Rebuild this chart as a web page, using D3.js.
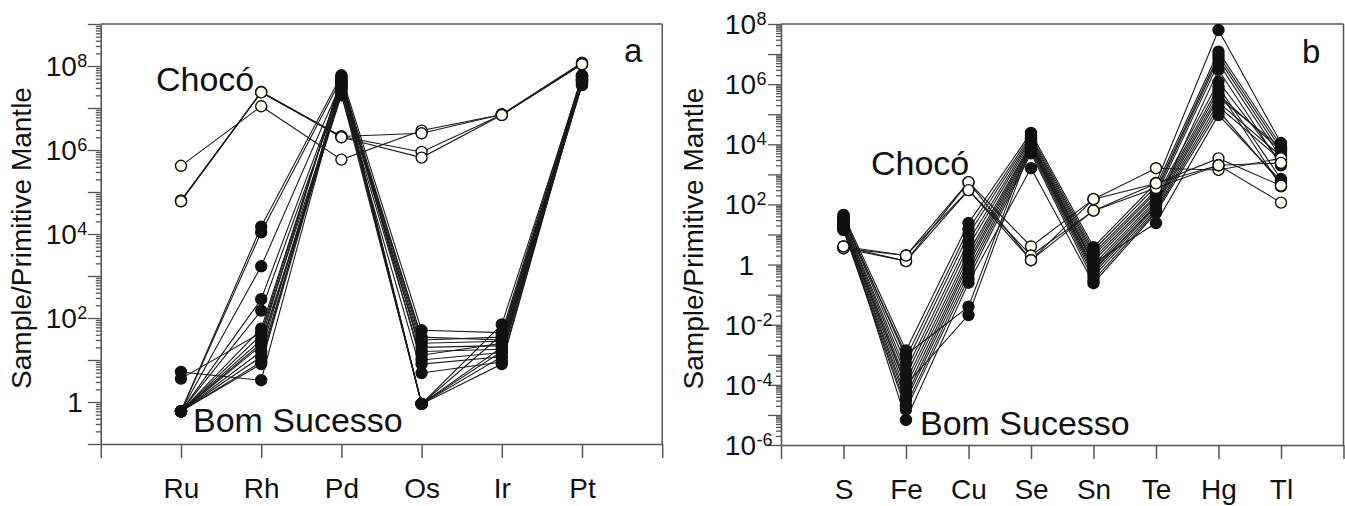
<!DOCTYPE html>
<html><head><meta charset="utf-8">
<script src="https://cdn.jsdelivr.net/npm/d3@7"></script>
<style>
body{margin:0;background:#fff}
svg text{font-family:"Liberation Sans",Arial,sans-serif;fill:#111}
</style>
</head><body>
<svg id="chart" width="1345" height="506"></svg>
<script>
// ---------- Panel a data ----------
const elementsA = ["Ru","Rh","Pd","Os","Ir","Pt"];
const chocoA = [
  [4.2e5, 1.1e7, 5.9e5, 2.9e6, 7.0e6, 1.2e8],
  [6.3e4, 2.4e7, 2.1e6, 2.5e6, 7.0e6, 1.15e8],
  [6.1e4, 2.4e7, 2.1e6, 9.0e5, 6.9e6, 1.1e8],
  [6.0e4, 2.35e7, 2.0e6, 6.6e5, 6.8e6, 1.1e8]
];
const bomSucessoA = [
  [0.6, 1.5e4, 6.0e7, 51, 45, 6.0e7],
  [0.6, 1.1e4, 5.0e7, 30, 35, 5.0e7],
  [0.6, 1.7e3, 4.0e7, 25, 28, 4.5e7],
  [0.6, 280,   3.5e7, 20, 22, 4.0e7],
  [0.6, 150,   3.0e7, 16, 18, 3.5e7],
  [0.6, 56,    4.5e7, 13, 25, 5.5e7],
  [0.6, 40,    2.5e7, 10, 15, 4.2e7],
  [0.6, 30,    5.5e7, 8,  12, 3.8e7],
  [0.6, 22,    2.0e7, 4.9, 9, 4.8e7],
  [0.6, 16,    3.8e7, 0.9, 70, 5.2e7],
  [0.6, 12,    2.8e7, 0.9, 40, 4.4e7],
  [0.6, 9,     4.2e7, 0.9, 20, 3.6e7],
  [0.6, 8,     3.2e7, 0.9, 12, 5.8e7],
  [0.6, 25,    2.2e7, 0.9, 8,  4.6e7],
  [5.2, 3.3,   3.6e7, 35, 30, 4.0e7],
  [3.6, 45,    4.8e7, 0.9, 16, 5.0e7]
];
const yTickExpA = [0, 2, 4, 6, 8];

// ---------- Panel b data ----------
const elementsB = ["S","Fe","Cu","Se","Sn","Te","Hg","Tl"];
const chocoB = [
  [3.5, 2.0, 550, 4.0, 150, 1600, 1400, 3400],
  [4.0, 1.3, 300, 2.0, 62,  500,  3400, 420],
  [3.5, 1.3, 550, 1.4, 62,  350,  2000, 115],
  [4.0, 2.0, 300, 1.4, 150, 500,  2000, 2400]
];
const bomSucessoB = [
  [45, 1.4e-3, 24,    2.4e4, 3.8,  520, 6.3e7, 1.1e4],
  [40, 8e-4,   15,    2.0e4, 3.0,  400, 1.2e7, 9000],
  [35, 5e-4,   10,    1.7e4, 2.4,  300, 9.0e6, 7000],
  [30, 3e-4,   6,     1.5e4, 2.0,  250, 7.0e6, 5000],
  [28, 2e-4,   4,     1.3e4, 1.6,  200, 5.0e6, 3500],
  [25, 1.3e-4, 2.5,   1.1e4, 1.3,  170, 1.2e6, 2500],
  [22, 9e-5,   1.8,   1.0e4, 1.0,  140, 8.0e5, 700],
  [20, 6e-5,   1.3,   9000,  0.8,  120, 6.0e5, 400],
  [18, 4e-5,   1.0,   8000,  0.6,  100, 4.5e5, 6000],
  [16, 3e-5,   0.7,   7000,  0.5,  85,  3.5e5, 8000],
  [15, 2e-5,   0.5,   6000,  0.4,  70,  2.5e5, 4000],
  [14, 1.5e-5, 0.35,  5000,  0.3,  60,  1.8e5, 3000],
  [24, 6.8e-6, 0.25,  1600,  0.24, 52,  1.3e5, 500],
  [32, 1e-3,   0.04,  1.2e4, 1.1,  24,  9.4e4, 600],
  [20, 1e-4,   0.021, 8500,  0.7,  90,  3.0e6, 2000]
];
const yTickExpB = [-6, -4, -2, 0, 2, 4, 6, 8];

const svg = d3.select("#chart");
const AX = "#555";

function drawPanel(cfg) {
  const n = cfg.elements.length;
  const x = d3.scaleLinear().domain([0, n + 1]).range([cfg.x0, cfg.x1]);
  const y = d3.scaleLog().domain(cfg.yDomain).range([cfg.bottom, cfg.top]);
  const g = svg.append("g");

  // frame (top & right)
  g.append("line").attr("x1", cfg.x0).attr("x2", cfg.x1).attr("y1", cfg.top).attr("y2", cfg.top)
    .attr("stroke", AX).attr("stroke-width", 1.5);
  g.append("line").attr("x1", cfg.x1).attr("x2", cfg.x1).attr("y1", cfg.top).attr("y2", cfg.bottom)
    .attr("stroke", AX).attr("stroke-width", 1.5);

  // y axis ticks
  const lo = Math.round(Math.log10(cfg.yDomain[0])), hi = Math.round(Math.log10(cfg.yDomain[1]));
  const majors = d3.range(lo, hi + 1).map(e => Math.pow(10, e));
  const minors = [];
  for (let e = lo; e < hi; e++) for (let k = 2; k <= 9; k++) minors.push(k * Math.pow(10, e));
  const yMaj = g.append("g").attr("transform", `translate(${cfg.x0},0)`)
    .call(d3.axisLeft(y).tickValues(majors).tickSize(13).tickSizeOuter(0).tickFormat(""));
  const yMin = g.append("g").attr("transform", `translate(${cfg.x0},0)`)
    .call(d3.axisLeft(y).tickValues(minors).tickSize(5).tickSizeOuter(0).tickFormat(""));
  [yMaj, yMin].forEach(a => { a.selectAll("path,line").attr("stroke", AX).attr("stroke-width", 1.3); });

  // y tick labels with superscripts
  cfg.tickExp.forEach(e => {
    const yy = y(Math.pow(10, e));
    if (e === 0) {
      g.append("text").attr("x", cfg.x0 - cfg.oneOff).attr("y", yy + 10)
        .attr("text-anchor", "end").attr("font-size", 28).text("1");
    } else {
      g.append("text").attr("x", cfg.x0 - cfg.tenOff).attr("y", yy + 10)
        .attr("text-anchor", "end").attr("font-size", 28).text("10");
      g.append("text").attr("x", cfg.x0 - cfg.tenOff + 0.5).attr("y", yy + 1)
        .attr("text-anchor", "start").attr("font-size", 18).text(e < 0 ? "-" + Math.abs(e) : String(e));
    }
  });

  // x axis
  const xa = g.append("g").attr("transform", `translate(0,${cfg.bottom})`)
    .call(d3.axisBottom(x).tickValues(d3.range(0, n + 2)).tickSize(14).tickSizeOuter(0)
      .tickPadding(20).tickFormat(i => cfg.elements[i - 1] || ""));
  xa.selectAll("path,line").attr("stroke", AX).attr("stroke-width", 1.5);
  xa.selectAll("text").attr("font-size", 28).attr("fill", "#111")
    .style("font-family", '"Liberation Sans",Arial,sans-serif');

  // y title
  g.append("text").attr("transform", `translate(${cfg.titleX},${(cfg.top + cfg.bottom) / 2 + 4}) rotate(-90)`)
    .attr("text-anchor", "middle").attr("font-size", 28).text("Sample/Primitive Mantle");

  const line = d3.line().x((d, i) => x(i + 1)).y(d => y(d));
  const all = cfg.solid.concat(cfg.open);
  g.append("g").selectAll("path").data(all).join("path")
    .attr("d", line).attr("fill", "none").attr("stroke", "#1a1a1a").attr("stroke-width", 1.1);

  const dots = (data, fill) => {
    const pts = [];
    data.forEach(s => s.forEach((v, i) => pts.push([i, v])));
    g.append("g").selectAll("circle").data(pts).join("circle")
      .attr("cx", d => x(d[0] + 1)).attr("cy", d => y(d[1])).attr("r", 5.5)
      .attr("fill", fill).attr("stroke", "#111").attr("stroke-width", 1.4);
  };
  dots(cfg.solid, "#111");
  dots(cfg.open, "#fffff6");

  cfg.labels.forEach(l => {
    g.append("text").attr("x", l.x).attr("y", l.y).attr("font-size", l.size).text(l.t);
  });
}

drawPanel({
  elements: elementsA, solid: bomSucessoA, open: chocoA, tickExp: yTickExpA,
  x0: 100.8, x1: 662.2, top: 24, bottom: 444, yDomain: [0.1, 1e9],
  tenOff: 24, oneOff: 18, titleX: 31,
  labels: [
    {t: "Chocó", x: 156, y: 91, size: 34},
    {t: "Bom Sucesso", x: 193, y: 432, size: 34},
    {t: "a", x: 624, y: 62, size: 33}
  ]
});
drawPanel({
  elements: elementsB, solid: bomSucessoB, open: chocoB, tickExp: yTickExpB,
  x0: 781, x1: 1343.5, top: 24, bottom: 445, yDomain: [1e-6, 1e8],
  tenOff: 25, oneOff: 27, titleX: 703,
  labels: [
    {t: "Chocó", x: 871, y: 175, size: 34},
    {t: "Bom Sucesso", x: 920, y: 435, size: 34},
    {t: "b", x: 1302, y: 63, size: 33}
  ]
});
</script>
</body></html>
